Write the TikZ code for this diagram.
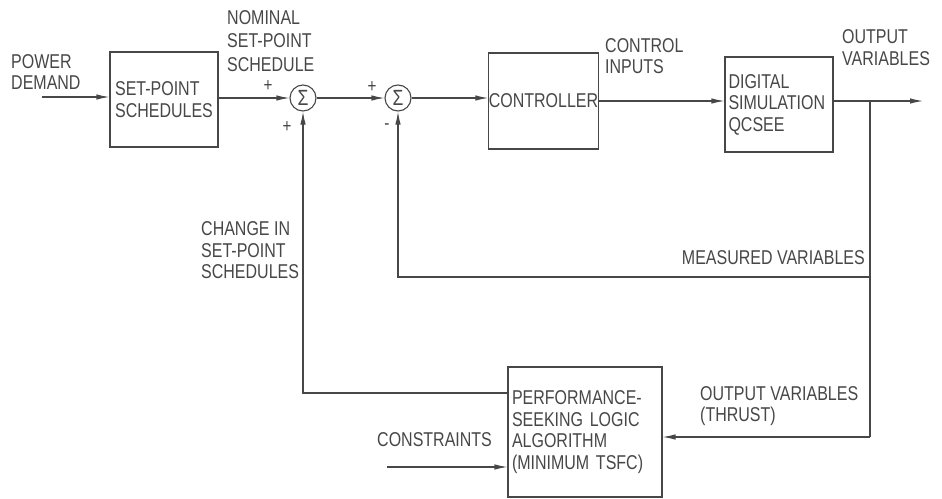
\documentclass[tikz,border=0pt]{standalone}
\usepackage{fontspec}
\setmainfont{Liberation Sans}[FakeStretch=0.80]
\usetikzlibrary{arrows.meta}
\definecolor{ink}{gray}{0.28}
\begin{document}
\begin{tikzpicture}[x=1pt,y=-1pt,
  every node/.style={text=ink,font=\fontsize{20}{21.5}\selectfont},
  blk/.style={draw=ink,line width=1.1pt,inner sep=0pt,align=left},
  lbl/.style={inner sep=0pt,align=left},
  sumnode/.style={draw=ink,line width=1.1pt,circle,minimum size=26pt,inner sep=0pt,font=\fontsize{22}{22}\selectfont},
  sgn/.style={inner sep=0pt,font=\fontsize{19}{19}\selectfont},
  conn/.style={draw=ink,line width=1.1pt},
  arr/.style={conn,-{Latex[length=13pt,width=5.5pt]}}]
\useasboundingbox (0,0) rectangle (942,498);

% blocks
\node[blk,minimum width=108pt,minimum height=95pt] (sps) at (164,99.5) {SET-POINT\\SCHEDULES};
\node[sumnode] (s1) at (303,98) {Σ};
\node[sumnode] (s2) at (398,98) {Σ};
\node[blk,minimum width=107pt,minimum height=96pt] (ctrl) at (543.5,101) {CONTROLLER};
\node[blk,minimum width=108pt,minimum height=95pt,text width=101pt,inner xsep=3.5pt] (dig) at (779,104.5) {DIGITAL\\SIMULATION\\QCSEE};
\node[blk,minimum width=154pt,minimum height=130pt,text width=146pt,inner xsep=4pt] (perf) at (585,432) {PERFORMANCE-\\SEEKING LOGIC\\ALGORITHM\\(MINIMUM TSFC)};

% labels
\node[lbl,anchor=west] (pdl) at (11,72) {POWER\\DEMAND};
\node[lbl,anchor=west,font=\fontsize{20}{23.5}\selectfont] (nom) at (227,41) {NOMINAL\\SET-POINT\\SCHEDULE};
\node[lbl,anchor=west] (cil) at (605,56) {CONTROL\\INPUTS};
\node[lbl,anchor=west] (ovl) at (842,47.5) {OUTPUT\\VARIABLES};
\node[lbl,anchor=east] (mvl) at (865,258) {MEASURED VARIABLES};
\node[lbl,anchor=west] (ovt) at (700,406) {OUTPUT VARIABLES\\(THRUST)};
\node[lbl,anchor=west] (cisl) at (201,250.5) {CHANGE IN\\SET-POINT\\SCHEDULES};
\node[lbl,anchor=west] (conl) at (377,440) {CONSTRAINTS};

% signs
\node[sgn] (p1a) at (268,86) {+};
\node[sgn] (p1b) at (287,127) {+};
\node[sgn] (p2a) at (372,87) {+};
\node[sgn] (m2b) at (387,127) {-};

% coordinates
\coordinate (pdstart) at (42,97);
\coordinate (outend) at (923,101);
\coordinate (br) at (870,101);
\coordinate (mv) at (870,277);
\coordinate (ot) at (870,437);
\coordinate (fb) at (303,393);
\coordinate (constart) at (387,467);

% connectors
\draw[arr] (pdstart) -- (pdstart -| sps.west);
\draw[arr] (s1 -| sps.east) -- (s1.west);
\draw[arr] (s1.east) -- (s2.west);
\draw[arr] (s2.east) -- (s2 -| ctrl.west);
\draw[arr] (ctrl.east) -- (ctrl.east -| dig.west);
\draw[arr] (br -| dig.east) -- (outend);
\draw[conn] (br) -- (ot);
\draw[arr] (ot) -- (ot -| perf.east);
\draw[arr] (mv) -- (mv -| s2) -- (s2.south);
\draw[arr] (fb -| perf.west) -- (fb) -- (s1.south);
\draw[arr] (constart) -- (constart -| perf.west);
\end{tikzpicture}
\end{document}
